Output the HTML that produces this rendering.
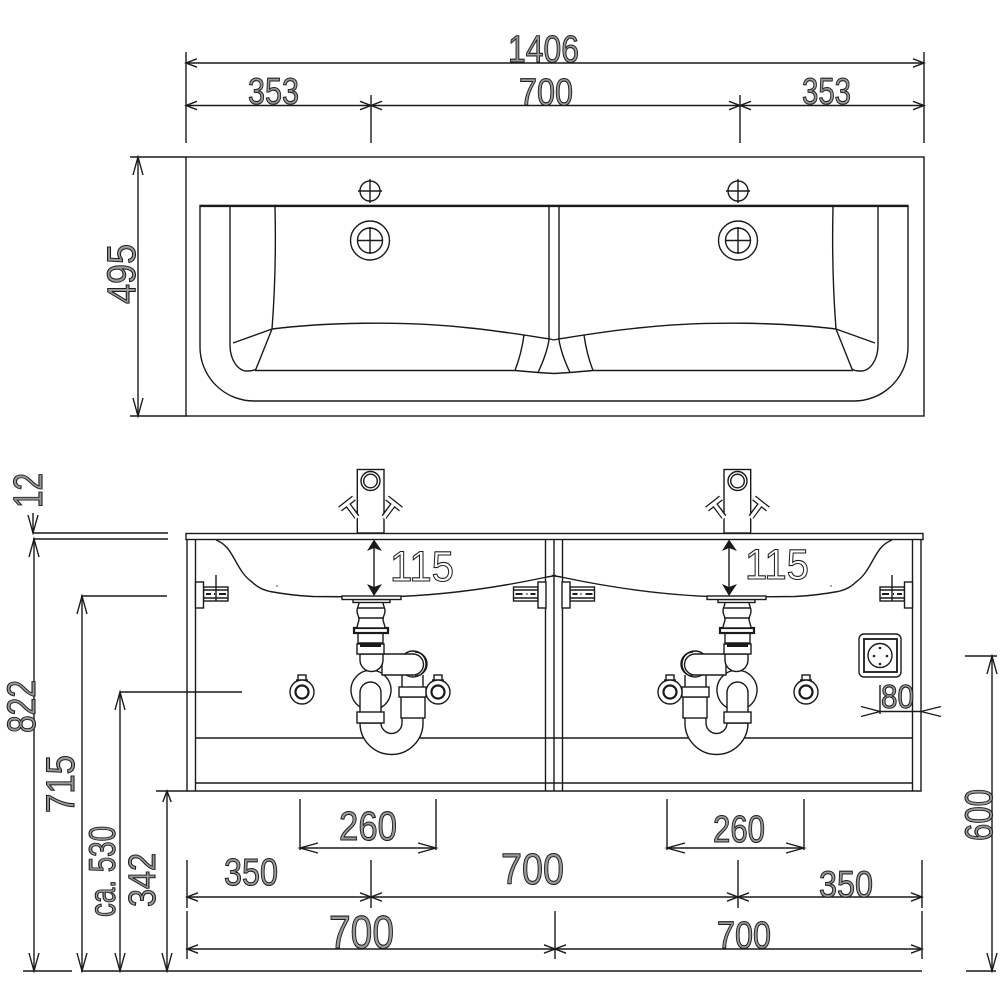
<!DOCTYPE html>
<html><head><meta charset="utf-8"><style>
html,body{margin:0;padding:0;background:#fff}
svg{display:block}
text{font-family:"Liberation Sans",sans-serif;fill:#9a9a9a;stroke:#1f1f1f;stroke-width:1.1}
.l{fill:none;stroke:#1a1a1a;stroke-width:1.4}
.w{fill:#fff;stroke:#1a1a1a;stroke-width:1.4}
</style></head><body>
<svg width="1000" height="1000" viewBox="0 0 1000 1000" xmlns="http://www.w3.org/2000/svg">
<defs>
<marker id="a" markerUnits="userSpaceOnUse" markerWidth="24" markerHeight="16" refX="12" refY="8" orient="auto-start-reverse" viewBox="0 0 24 16"><path d="M1,3.800 L12,8 L1,12.200" fill="none" stroke="#1a1a1a" stroke-width="1.400"/></marker>
<marker id="v" markerUnits="userSpaceOnUse" markerWidth="24" markerHeight="16" refX="19" refY="8" orient="auto-start-reverse" viewBox="0 0 24 16"><path d="M1,3 L19,8 L1,13" fill="none" stroke="#1a1a1a" stroke-width="1.400"/></marker>

<g id="topHalf" class="l">
<path class="l" d="M554,205.500H200V347A54,54 0 0 0 254,401H554"/>
<path class="l" d="M200,206H554" style="stroke-width:2.200"/>
<path class="l" d="M230,206V345C230,360 238,371 247,371C250,371 254,371 256,369L272,329M233,343L272,329M275,207C276,250 275,290 272,329"/>
<path class="l" d="M272,329C320,323 400,320 470,328C500,331 530,336 550,339L554,340"/>
<path class="l" d="M255,370.500H515L538,372.500L554,373.500M524,335C522,350 519,360 515,370.500M549,340C547,352 543,362 538,372.500M549,207V340"/>
<circle class="l" cx="370" cy="191" r="10"/><path class="l" d="M370,179V203M358,191H382"/>
<circle class="l" cx="370" cy="240.500" r="19.500"/><circle class="l" cx="370" cy="240.500" r="12.500"/><path class="l" d="M370,227V254M357,240.500H383"/>
</g>

<g id="nut">
<rect class="w" x="-4" y="-17" width="8" height="6"/><path class="l" d="M-6,-12H6"/>
<circle class="w" cx="0" cy="0" r="12"/><circle class="l" cx="0" cy="0" r="6.500" style="stroke-width:2.200"/>
</g>

<g id="bracket">
<rect class="w" x="203.500" y="587" width="24.500" height="14"/>
<path class="l" d="M203.500,590H228M203.500,598H228"/>
<path class="l" d="M206,594H211M214,594H215M219,594H226" style="stroke-width:2"/>
<rect class="w" x="195.500" y="582" width="8" height="26"/>
</g>

<g id="frontHalf">
<path class="l" d="M216,540C226,544 230,551 235,560C241,571 245,577 252,582C258,588 264,590 270,591.500C284,594 300,596 313,596.500L372,597C440,597 500,587 547,577L556,575.500"/>
<path class="l" d="M187,539.500V791H554M195.500,539.500V791M195.500,738H554M195.500,783H554M545.500,539.500V791"/>
<use href="#bracket"/>
<path class="l" d="M216,575V601"/>
<use href="#bracket" transform="matrix(-1 0 0 1 741.500 0)"/>
<circle cx="277" cy="586" r=".7" fill="#222"/>

<g>
<rect class="w" x="357.300" y="469.500" width="26.700" height="63.500"/>
<circle class="l" cx="370.500" cy="481" r="9.500"/><circle class="l" cx="370.500" cy="481" r="6.800"/>
<path d="M348,505L357,517M340,509L354,498" fill="none" stroke="#1a1a1a" stroke-width="6"/>
<path d="M348,505L357.500,518M340,509L354,498" fill="none" stroke="#fff" stroke-width="3.400"/>
<path d="M393,505L384,517M401,509L387,498" fill="none" stroke="#1a1a1a" stroke-width="6"/>
<path d="M393,505L383.500,518M401,509L387,498" fill="none" stroke="#fff" stroke-width="3.400"/>
</g>

<!-- siphon -->
<path class="w" d="M360,723A31.500,31.500 0 0 0 423,723V697H402V723A10.500,10.500 0 0 1 381,723Z"/>
<rect class="w" x="401" y="697" width="24" height="21"/>
<rect class="w" x="399" y="687" width="27" height="10"/>
<path class="l" d="M402,675V687M423,675V687"/>
<path class="w" d="M362,708A20,20 0 1 1 380,708"/>
<path class="w" d="M360,712V692.500A10.500,10.500 0 0 1 381,692.500V712"/>
<rect class="w" x="357" y="712" width="27" height="11"/>
<circle class="w" cx="413" cy="664" r="13"/>
<path class="l" d="M415,652A12,12 0 0 1 415,676"/>
<path class="w" d="M382,654H413A10.500,10.500 0 0 1 413,675H382Z"/>
<path class="w" d="M360,654V660A11.500,11.500 0 0 0 383,660V654Z"/>
<rect class="w" x="357" y="644" width="27" height="10"/>
<rect x="360" y="642" width="21" height="5" fill="#1a1a1a"/>
<path class="w" d="M358,633V643H383V633Z"/>
<rect class="w" x="354" y="628" width="34" height="5" style="stroke-width:2.200"/>
<path class="w" d="M359,602C359,606 357,607 357,611C357,615 359,616 359,619C359,622 357,625 357,628H385C385,625 383,622 383,619C383,616 385,615 385,611C385,607 383,606 383,602Z"/>
<path class="l" d="M358,608H384M358,618H384"/>
<rect class="w" x="353" y="599.500" width="37" height="3"/>
<rect class="w" x="342" y="596" width="59" height="3.500"/>

<use href="#nut" transform="translate(302,692)"/>
<use href="#nut" transform="translate(438,692)"/>
</g>
</defs>

<!-- TOP VIEW -->
<rect class="l" x="186" y="157" width="738" height="259"/>
<use href="#topHalf"/>
<use href="#topHalf" transform="matrix(-1 0 0 1 1108 0)"/>

<!-- FRONT VIEW -->
<use href="#frontHalf"/>
<use href="#frontHalf" transform="matrix(-1 0 0 1 1108 0)"/>
<rect class="w" x="186" y="533.500" width="737" height="6"/>
<path class="l" d="M554,539.500V791"/>

<!-- Socket -->
<rect class="l" x="859" y="634" width="42" height="43" rx="5"/>
<rect class="l" x="864" y="639" width="33" height="33" style="stroke-width:1.800"/>
<circle class="l" cx="880" cy="655.500" r="12"/>
<circle cx="880" cy="648" r="1.300" fill="#222"/><circle cx="880" cy="664" r="1.300" fill="#222"/>
<circle cx="874" cy="656" r="1.300" fill="#222"/><circle cx="887" cy="656" r="1.300" fill="#222"/>

<!-- 115 arrows -->
<path class="l" d="M374,545V590M729,545V590"/>
<polygon points="374,539.500 382,551 374,548 367,551" fill="#1a1a1a"/>
<polygon points="374,596 382,584 374,587 367,584" fill="#1a1a1a"/>
<polygon points="729,539.500 737,551 729,548 722,551" fill="#1a1a1a"/>
<polygon points="729,596 737,584 729,587 722,584" fill="#1a1a1a"/>

<!-- Top dimension lines -->
<path class="l" d="M186,52V143M924,52V143M371,95V143M740,95V143"/>
<path class="l" d="M186,63H924" marker-start="url(#a)" marker-end="url(#a)"/>
<path class="l" d="M186,105.500H371" marker-start="url(#a)" marker-end="url(#a)"/>
<path class="l" d="M371,105.500H740" marker-start="url(#a)" marker-end="url(#a)"/>
<path class="l" d="M740,105.500H924" marker-start="url(#a)" marker-end="url(#a)"/>
<path class="l" d="M130,157H186M130,416H186"/>
<path class="l" d="M138,157V416" marker-start="url(#v)" marker-end="url(#v)"/>

<!-- Left dims -->
<path class="l" d="M33,533H168M33,539H168M81,596H167M120,692H242M156,791H187M23,971H72M81,971H922M966,971H996M965,656H997"/>
<path class="l" d="M33,513V533" marker-end="url(#v)"/>
<path class="l" d="M34,539V971" marker-start="url(#v)" marker-end="url(#v)"/>
<path class="l" d="M82,596V971" marker-start="url(#v)" marker-end="url(#v)"/>
<path class="l" d="M120,692V971" marker-start="url(#v)" marker-end="url(#v)"/>
<path class="l" d="M167,791V971" marker-start="url(#a)" marker-end="url(#v)"/>
<path class="l" d="M992,656V971" marker-start="url(#v)" marker-end="url(#v)"/>

<!-- Bottom dims -->
<path class="l" d="M300,799V850M436,799V850M667,799V850M804,799V850"/>
<path class="l" d="M300,848H436" marker-start="url(#v)" marker-end="url(#v)"/>
<path class="l" d="M667,848H804" marker-start="url(#v)" marker-end="url(#v)"/>
<path class="l" d="M187,860V908M187,911V959M922,860V908M922,911V959M371,860V908M738,860V908M555,911V959"/>
<path class="l" d="M187,897H371" marker-start="url(#a)" marker-end="url(#a)"/>
<path class="l" d="M371,897H738" marker-start="url(#a)" marker-end="url(#a)"/>
<path class="l" d="M738,897H922" marker-start="url(#a)" marker-end="url(#a)"/>
<path class="l" d="M187,949H555" marker-start="url(#a)" marker-end="url(#a)"/>
<path class="l" d="M555,949H922" marker-start="url(#a)" marker-end="url(#a)"/>

<!-- 80 dim -->
<path class="l" d="M880,685V714"/>
<path class="l" d="M880,711.500H921"/>
<path class="l" d="M861,706.500L880,711.500L861,716.500M941,706.500L921,711.500L941,716.500"/>

<!-- Labels -->
<text x="508" y="62" font-size="38" textLength="71" lengthAdjust="spacingAndGlyphs">1406</text>
<text x="248" y="104" font-size="37" textLength="51" lengthAdjust="spacingAndGlyphs">353</text>
<text x="519" y="105" font-size="38" textLength="54" lengthAdjust="spacingAndGlyphs">700</text>
<text x="802" y="104" font-size="37" textLength="49" lengthAdjust="spacingAndGlyphs">353</text>

<text transform="translate(135,304) rotate(-90)" font-size="40" textLength="60" lengthAdjust="spacingAndGlyphs">495</text>
<text transform="translate(42,508) rotate(-90)" font-size="41" textLength="35" lengthAdjust="spacingAndGlyphs">12</text>
<text transform="translate(35,733) rotate(-90)" font-size="40" textLength="53" lengthAdjust="spacingAndGlyphs">822</text>
<text transform="translate(74,813) rotate(-90)" font-size="40" textLength="58" lengthAdjust="spacingAndGlyphs">715</text>
<text transform="translate(115,917) rotate(-90)" font-size="37" textLength="91" lengthAdjust="spacingAndGlyphs">ca. 530</text>
<text transform="translate(155,907) rotate(-90)" font-size="38" textLength="54" lengthAdjust="spacingAndGlyphs">342</text>
<text transform="translate(992,841) rotate(-90)" font-size="39" textLength="52" lengthAdjust="spacingAndGlyphs">600</text>

<text x="390" y="581" font-size="43" textLength="64" lengthAdjust="spacingAndGlyphs" style="fill:#fff">115</text>
<text x="745" y="579" font-size="43" textLength="64" lengthAdjust="spacingAndGlyphs" style="fill:#fff">115</text>
<text x="881" y="708" font-size="33" textLength="33" lengthAdjust="spacingAndGlyphs">80</text>

<text x="339" y="840" font-size="41" textLength="58" lengthAdjust="spacingAndGlyphs">260</text>
<text x="713" y="842" font-size="38" textLength="52" lengthAdjust="spacingAndGlyphs">260</text>
<text x="224" y="885" font-size="38" textLength="54" lengthAdjust="spacingAndGlyphs">350</text>
<text x="501" y="884" font-size="44" textLength="63" lengthAdjust="spacingAndGlyphs">700</text>
<text x="819" y="897" font-size="37" textLength="54" lengthAdjust="spacingAndGlyphs">350</text>
<text x="329" y="948" font-size="46" textLength="65" lengthAdjust="spacingAndGlyphs">700</text>
<text x="717" y="948" font-size="38" textLength="54" lengthAdjust="spacingAndGlyphs">700</text>
</svg>
</body></html>
